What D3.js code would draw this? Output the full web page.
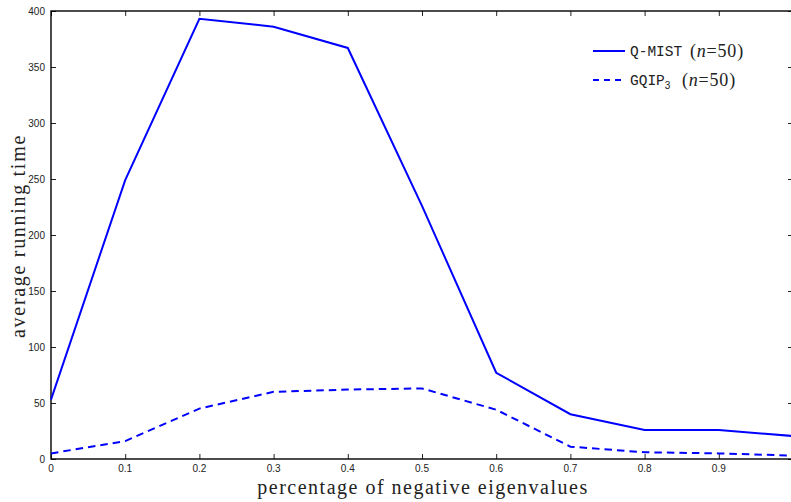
<!DOCTYPE html>
<html>
<head>
<meta charset="utf-8">
<script src="https://cdn.jsdelivr.net/npm/d3@7"></script>
<style>
  body { margin: 0; background: #fff; }
  svg { display: block; }
</style>
</head>
<body>
<svg id="chart" width="791" height="502"></svg>
<script>
// percentage of negative eigenvalues
const xValues = [0, 0.1, 0.2, 0.3, 0.4, 0.5, 0.6, 0.7, 0.8, 0.9, 1.0];
const qmist = [53, 249, 393, 386, 367, 226, 77, 40, 26, 26, 20.5];
const gqip = [5, 16, 45, 60, 62, 63, 44, 11, 6, 5, 3];
const xTicks = [0, 0.1, 0.2, 0.3, 0.4, 0.5, 0.6, 0.7, 0.8, 0.9];
const yTicks = [0, 50, 100, 150, 200, 250, 300, 350, 400];

const svg = d3.select("#chart");
const margin = { left: 51, top: 11 };
const plotW = 742, plotH = 448;

const x = d3.scaleLinear().domain([0, 1]).range([margin.left, margin.left + plotW]);
const y = d3.scaleLinear().domain([0, 400]).range([margin.top + plotH, margin.top]);

const tickFont = "'Liberation Sans', Arial, sans-serif";

// axes (ticks pointing inward, on all four sides)
svg.append("g")
	.attr("transform", `translate(0,${y(0)})`)
	.call(d3.axisTop(x).tickValues(xTicks).tickSize(5).tickFormat(""));
svg.append("g")
	.attr("transform", `translate(0,${y(400)})`)
	.call(d3.axisBottom(x).tickValues(xTicks).tickSize(5).tickFormat(""));
svg.append("g")
	.attr("transform", `translate(${x(0)},0)`)
	.call(d3.axisRight(y).tickValues(yTicks).tickSize(5).tickFormat(""));
svg.append("g")
	.attr("transform", `translate(${x(1)},0)`)
	.call(d3.axisLeft(y).tickValues(yTicks).tickSize(5).tickFormat(""));

svg.selectAll(".domain").remove();
svg.selectAll(".tick line").attr("stroke", "#222").attr("stroke-width", 1);

// box
svg.append("rect")
	.attr("x", x(0)).attr("y", y(400))
	.attr("width", x(1) - x(0)).attr("height", y(0) - y(400))
	.attr("fill", "none").attr("stroke", "#000").attr("stroke-width", 1.4);

// tick labels
svg.append("g").selectAll("text").data(xTicks).join("text")
	.attr("x", d => x(d)).attr("y", y(0) + 12.5)
	.attr("text-anchor", "middle")
	.attr("font-family", tickFont).attr("font-size", 10).attr("fill", "#222")
	.text(d => d === 0 ? "0" : d3.format(".1f")(d));
svg.append("g").selectAll("text").data(yTicks).join("text")
	.attr("x", x(0) - 6).attr("y", d => y(d) + 3.5)
	.attr("text-anchor", "end")
	.attr("font-family", tickFont).attr("font-size", 10).attr("fill", "#222")
	.text(d => d);

// axis titles
const serif = "'Liberation Serif', 'Times New Roman', serif";
svg.append("text")
	.attr("x", 423).attr("y", 494)
	.attr("text-anchor", "middle")
	.attr("font-family", serif).attr("font-size", 20).attr("fill", "#222")
	.attr("letter-spacing", 1.5)
	.text("percentage of negative eigenvalues");
svg.append("text")
	.attr("transform", "translate(25,236) rotate(-90)")
	.attr("text-anchor", "middle")
	.attr("font-family", serif).attr("font-size", 20).attr("fill", "#222")
	.attr("letter-spacing", 1.7)
	.text("average running time");

// lines
const line = d3.line().x(d => x(d[0])).y(d => y(d[1]));
const plot = svg.append("g");

plot.append("path")
	.datum(xValues.map((v, i) => [v, qmist[i]]))
	.attr("d", line)
	.attr("fill", "none").attr("stroke", "#0000ff").attr("stroke-width", 2);
plot.append("path")
	.datum(xValues.map((v, i) => [v, gqip[i]]))
	.attr("d", line)
	.attr("fill", "none").attr("stroke", "#0000ff").attr("stroke-width", 2)
	.attr("stroke-dasharray", "7.5,5");

// legend
const legend = svg.append("g");
const rows = [
	{ name: "Q-MIST", sub: null, dash: null, y: 51 },
	{ name: "GQIP", sub: "3", dash: "6,5", y: 80 }
];
rows.forEach(r => {
	legend.append("line")
		.attr("x1", 593).attr("x2", 625).attr("y1", r.y).attr("y2", r.y)
		.attr("stroke", "#0000ff").attr("stroke-width", 2)
		.attr("stroke-dasharray", r.dash);
	const t = legend.append("text")
		.attr("x", 630).attr("y", r.y + 5)
		.attr("fill", "#222");
	t.append("tspan").attr("font-family", "'Liberation Mono', monospace").attr("font-size", 14.5).text(r.name);
	if (r.sub) {
		t.append("tspan").attr("font-family", tickFont).attr("font-size", 10)
			.attr("dy", 4).text(r.sub);
	}
	const math = legend.append("text")
		.attr("x", r.sub ? 682 : 690).attr("y", r.y + 6)
		.attr("fill", "#222").attr("font-family", serif).attr("font-size", 18)
		.attr("letter-spacing", 0.8);
	math.append("tspan").text("(");
	math.append("tspan").attr("font-style", "italic").text("n");
	math.append("tspan").text("=50)");
});
</script>
</body>
</html>
